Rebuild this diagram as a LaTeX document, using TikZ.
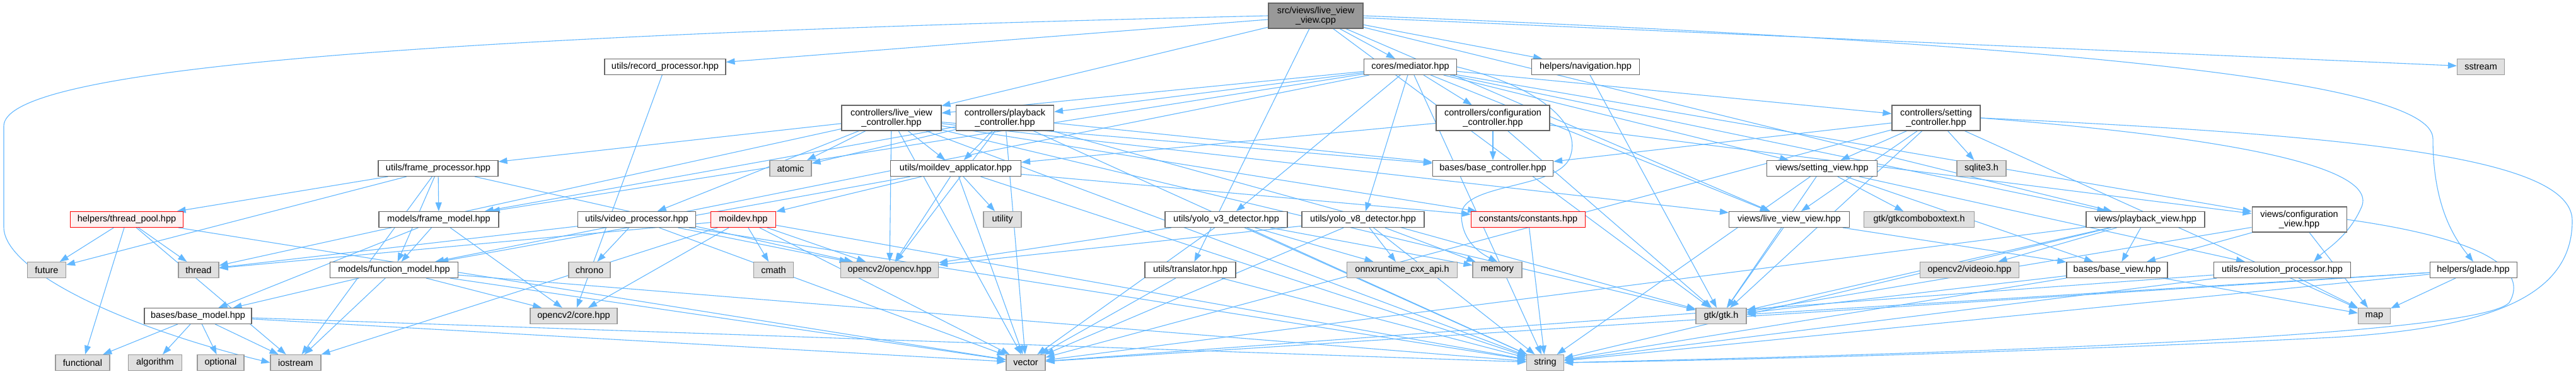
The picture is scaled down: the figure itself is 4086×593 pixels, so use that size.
\documentclass[tikz,border=0pt]{standalone}
\usepackage{fontspec}
\setmainfont{Liberation Sans}
\usetikzlibrary{arrows.meta,backgrounds}
\definecolor{edgec}{HTML}{63B8FF}
\definecolor{boxborder}{HTML}{666666}
\definecolor{extborder}{HTML}{999999}
\definecolor{extfill}{HTML}{E0E0E0}
\definecolor{redfill}{HTML}{FFF0F0}
\definecolor{mainfill}{HTML}{999999}
\begin{document}
\begin{tikzpicture}[x=1pt,y=-1pt,
  box/.style={draw=boxborder,fill=white,line width=1.1pt,minimum height=25pt,inner sep=0pt,
    font=\fontsize{14.5}{15}\selectfont,align=center},
  ext/.style={box,draw=extborder,fill=extfill},
  redbox/.style={box,draw=red,fill=redfill},
  mainbox/.style={box,fill=mainfill},
  two/.style={minimum height=40pt},
  edge/.style={draw=edgec,line width=1.1pt,-{Triangle[length=14pt,width=10pt]}}
]
\useasboundingbox (0,0) rectangle (4086,593);
% row 0
\node[mainbox,two,minimum width=150pt] (main) at (2087,25) {src/views/live\_view\\\_view.cpp};
% row 1
\node[box,minimum width=192pt] (record) at (1055,106) {utils/record\_processor.hpp};
\node[box,minimum width=147pt] (mediator) at (2237,106) {cores/mediator.hpp};
\node[box,minimum width=171pt] (navigation) at (2515,106) {helpers/navigation.hpp};
\node[ext,minimum width=75pt] (sstream) at (3935,106) {sstream};
% row 2
\node[box,two,minimum width=158pt] (lvc) at (1414,187) {controllers/live\_view\\\_controller.hpp};
\node[box,two,minimum width=155pt] (pbc) at (1594,187) {controllers/playback\\\_controller.hpp};
\node[box,two,minimum width=180pt] (cfgc) at (2368,187) {controllers/configuration\\\_controller.hpp};
\node[box,two,minimum width=140pt] (setc) at (3071,187) {controllers/setting\\\_controller.hpp};
% row 3
\node[box,minimum width=190pt] (frameproc) at (695,267) {utils/frame\_processor.hpp};
\node[ext,minimum width=66pt] (atomic) at (1254,267) {atomic};
\node[box,minimum width=207pt] (mapp) at (1516,267) {utils/moildev\_applicator.hpp};
\node[box,minimum width=191pt] (basectrl) at (2368,267) {bases/base\_controller.hpp};
\node[box,minimum width=175pt] (setview) at (2890,267) {views/setting\_view.hpp};
\node[ext,minimum width=78pt] (sqlite) at (3143,267) {sqlite3.h};
% row 4
\node[redbox,minimum width=179pt] (threadpool) at (201,348) {helpers/thread\_pool.hpp};
\node[box,minimum width=190pt] (framemodel) at (696,348) {models/frame\_model.hpp};
\node[box,minimum width=187pt] (videoproc) at (1010,348) {utils/video\_processor.hpp};
\node[redbox,minimum width=103pt] (moildev) at (1179,348) {moildev.hpp};
\node[ext,minimum width=60pt] (utility) at (1590,348) {utility};
\node[box,minimum width=194pt] (yolo3) at (1945,348) {utils/yolo\_v3\_detector.hpp};
\node[box,minimum width=194pt] (yolo8) at (2162,348) {utils/yolo\_v8\_detector.hpp};
\node[redbox,minimum width=181pt] (constants) at (2424,348) {constants/constants.hpp};
\node[box,minimum width=191pt] (lvview) at (2838,348) {views/live\_view\_view.hpp};
\node[ext,minimum width=175pt] (gtkcombo) at (3044,348) {gtk/gtkcomboboxtext.h};
\node[box,minimum width=188pt] (pbview) at (3403,348) {views/playback\_view.hpp};
\node[box,two,minimum width=150pt] (cfgview) at (3647,348) {views/configuration\\\_view.hpp};
% row 5
\node[ext,minimum width=61pt] (future) at (74,428) {future};
\node[ext,minimum width=64pt] (thread) at (315,428) {thread};
\node[box,minimum width=203pt] (funcmodel) at (625,428) {models/function\_model.hpp};
\node[ext,minimum width=66pt] (chrono) at (935,428) {chrono};
\node[ext,minimum width=63pt] (cmath) at (1227,428) {cmath};
\node[ext,minimum width=155pt] (opencv) at (1411,428) {opencv2/opencv.hpp};
\node[box,minimum width=144pt] (translator) at (1888,428) {utils/translator.hpp};
\node[ext,minimum width=175pt] (onnx) at (2224,428) {onnxruntime\_cxx\_api.h};
\node[ext,minimum width=78pt] (memory) at (2375,428) {memory};
\node[ext,minimum width=157pt] (videoio) at (3124,428) {opencv2/videoio.hpp};
\node[box,minimum width=160pt] (basev) at (3358,428) {bases/base\_view.hpp};
\node[box,minimum width=217pt] (resolution) at (3620,428) {utils/resolution\_processor.hpp};
\node[box,minimum width=138pt] (glade) at (3923,428) {helpers/glade.hpp};
% row 6
\node[box,minimum width=170pt] (basemodel) at (314,501) {bases/base\_model.hpp};
\node[ext,minimum width=138pt] (core) at (910,501) {opencv2/core.hpp};
\node[ext,minimum width=80pt] (gtk) at (2730,501) {gtk/gtk.h};
\node[ext,minimum width=51pt] (map) at (3766,501) {map};
% row 7
\node[ext,minimum width=86pt] (functional) at (131,575) {functional};
\node[ext,minimum width=85pt] (algorithm) at (246,575) {algorithm};
\node[ext,minimum width=74pt] (optional) at (350,575) {optional};
\node[ext,minimum width=80pt] (iostream) at (469,575) {iostream};
\node[ext,minimum width=62pt] (vector) at (1627,575) {vector};
\node[ext,minimum width=59pt] (string) at (2451,575) {string};

\begin{pgfonlayer}{background}
\fill[white] (0,0) rectangle (4086,593);
\foreach \s/\t in {
  main/record, main/mediator, main/navigation, main/sstream, main/lvc, main/translator, main/gtk, main/pbview, main/lvview,
  record/core,
  mediator/lvc, mediator/pbc, mediator/cfgc, mediator/setc, mediator/framemodel, mediator/funcmodel, mediator/yolo3, mediator/yolo8, mediator/setview, mediator/cfgview, mediator/lvview, mediator/pbview, mediator/string,
  navigation/gtk,
  lvc/frameproc, lvc/atomic, lvc/mapp, lvc/basectrl, lvc/thread, lvc/videoproc, lvc/opencv, lvc/lvview, lvc/constants, lvc/gtk, lvc/string, lvc/vector,
  pbc/atomic, pbc/mapp, pbc/basectrl, pbc/framemodel, pbc/opencv, pbc/gtk, pbc/string, pbc/vector,
  cfgc/basectrl, cfgc/mapp, cfgc/cfgview, cfgc/gtk,
  setc/setview, setc/sqlite, setc/basectrl, setc/lvview, setc/gtk, setc/map, setc/vector,
  frameproc/threadpool, frameproc/framemodel, frameproc/funcmodel, frameproc/future, frameproc/opencv, frameproc/iostream,
  mapp/moildev, mapp/utility, mapp/opencv, mapp/constants, mapp/funcmodel, mapp/vector, mapp/string,
  moildev/cmath, moildev/opencv, moildev/core, moildev/iostream, moildev/string, moildev/vector, moildev/thread,
  videoproc/chrono, videoproc/opencv, videoproc/string, videoproc/vector, videoproc/thread,
  yolo3/opencv, yolo3/onnx, yolo3/memory, yolo3/vector, yolo3/string,
  yolo8/onnx, yolo8/memory, yolo8/opencv, yolo8/vector, yolo8/string,
  constants/string,
  lvview/gtk, lvview/basev,
  setview/gtkcombo, setview/gtk, setview/string, setview/basev, setview/resolution,
  pbview/videoio, pbview/basev, pbview/gtk, pbview/string, pbview/vector,
  cfgview/basev, cfgview/map, cfgview/gtk,
  threadpool/future, threadpool/thread, threadpool/functional, threadpool/iostream, threadpool/vector,
  framemodel/funcmodel, framemodel/basemodel, framemodel/core,
  funcmodel/basemodel, funcmodel/iostream, funcmodel/core, funcmodel/vector, funcmodel/string,
  basemodel/functional, basemodel/algorithm, basemodel/optional, basemodel/iostream, basemodel/vector, basemodel/string,
  translator/vector, translator/string,
  basev/gtk, basev/map, basev/string,
  resolution/map, resolution/string, resolution/vector,
  glade/map, glade/gtk, glade/string, glade/vector}
  \draw[edge] (\s) -- (\t);
% curved long edges
\draw[edge] (main.west) .. controls (500,60) and (6,120) .. (6,200) -- (6,360) .. controls (6,430) and (200,520) .. (iostream.west);
\draw[edge] (main.east) .. controls (3300,70) and (3859,130) .. (3859,220) .. controls (3859,330) and (3895,380) .. (glade.north);
\draw[edge] (setc.east) .. controls (3750,215) and (4080,250) .. (4080,350) .. controls (4080,470) and (3950,520) .. (3700,535) .. controls (3200,560) and (2700,572) .. (string.east);
\draw[edge] (cfgview.east) .. controls (3950,380) and (4010,430) .. (3980,480) .. controls (3920,540) and (2900,565) .. (string.east);
\draw[edge] (mediator.east) .. controls (2450,140) and (2510,200) .. (2490,250) .. controls (2470,300) and (2320,290) .. (2318,340) .. controls (2318,380) and (2345,400) .. (memory.north);
\draw[edge] (setc.east) .. controls (3500,215) and (3780,260) .. (3745,330) .. controls (3725,375) and (3690,395) .. ([xshift=50pt]resolution.north);
\end{pgfonlayer}
\end{tikzpicture}
\end{document}
